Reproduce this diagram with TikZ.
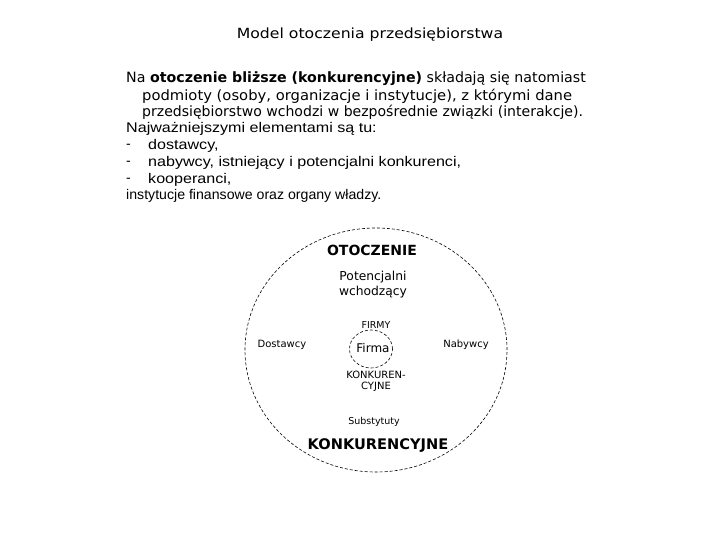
\documentclass[tikz,border=0pt]{standalone}
\usepackage{fontspec}
\usetikzlibrary{shapes.geometric}
\setmainfont{DejaVu Sans}
\newfontfamily\arialfont{Liberation Sans}
\begin{document}
\begin{tikzpicture}[x=1pt,y=-1pt,
  txt/.style={inner sep=0pt,anchor=west},
  lbl/.style={inner sep=0pt},
  body/.style={txt,font=\fontsize{14.2}{16}\selectfont},
  arial/.style={txt,font=\arialfont\fontsize{14}{16}\selectfont},
  dash ring/.style={draw=black,line width=0.6pt,dash pattern=on 3pt off 2pt}]
\useasboundingbox (0,0) rectangle (720,540);
\fill[white] (0,0) rectangle (720,540);
% title
\node[lbl,font=\fontsize{14}{16}\selectfont] (title) at (370,35) {\scalebox{1.12}[1]{Model otoczenia przedsiębiorstwa}};
% paragraph
\node[body] (l1) at (126,79) {Na \textbf{otoczenie bliższe (konkurencyjne)} składają się natomiast};
\node[body] (l2) at (142,96) {\scalebox{1.04}[1]{podmioty (osoby, organizacje i instytucje), z którymi dane}};
\node[body] (l3) at (142,112) {\scalebox{0.99}[1]{przedsiębiorstwo wchodzi w bezpośrednie związki (interakcje).}};
\node[arial] (l4) at (126,129) {\scalebox{1.15}[1]{Najważniejszymi elementami są tu:}};
\node[arial] (d5) at (126,146) {-};
\node[arial] (l5) at (148,146) {\scalebox{1.15}[1]{dostawcy,}};
\node[arial] (d6) at (126,163) {-};
\node[arial] (l6) at (148,163) {\scalebox{1.15}[1]{nabywcy, istniejący i potencjalni konkurenci,}};
\node[arial] (d7) at (126,180) {-};
\node[arial] (l7) at (148,180) {\scalebox{1.15}[1]{kooperanci,}};
\node[arial] (l8) at (126,196) {\scalebox{1.01}[1]{instytucje finansowe oraz organy władzy.}};
% diagram
\node[dash ring,ellipse,minimum width=262pt,minimum height=244pt,inner sep=0pt] (ring) at (376,350) {};
\node[dash ring,ellipse,minimum width=43pt,minimum height=38pt,inner sep=0pt] (firma) at (371,349) {};
\node[lbl,font=\fontsize{12}{14}\selectfont] (firmat) at (373,348) {Firma};
\node[lbl,font=\bfseries\fontsize{14}{16}\selectfont] (otocz) at (372,250) {OTOCZENIE};
\node[lbl,font=\fontsize{12.3}{15}\selectfont,align=center] (pot) at (373,285) {Potencjalni\\wchodzący};
\node[lbl,font=\fontsize{9.5}{11}\selectfont] (firmy) at (376,325) {FIRMY};
\node[lbl,font=\fontsize{10}{11}\selectfont,align=center] (konk) at (376,381) {KONKUREN-\\CYJNE};
\node[lbl,font=\fontsize{10}{12}\selectfont] (dost) at (282,345) {Dostawcy};
\node[lbl,font=\fontsize{10}{12}\selectfont] (nab) at (466,345) {Nabywcy};
\node[lbl,font=\fontsize{9.5}{12}\selectfont] (subst) at (374,422) {Substytuty};
\node[lbl,font=\bfseries\fontsize{14.6}{17}\selectfont] (konkb) at (378,446) {KONKURENCYJNE};
\end{tikzpicture}
\end{document}
